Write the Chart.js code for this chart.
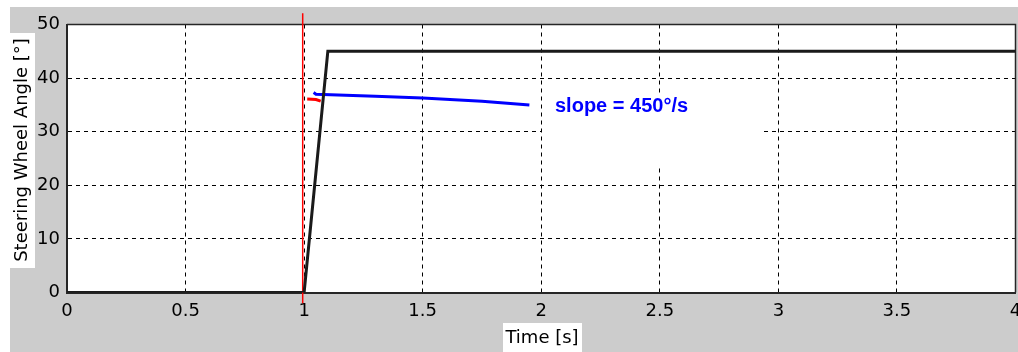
<!DOCTYPE html>
<html>
<head>
<meta charset="utf-8">
<script src="https://cdn.jsdelivr.net/npm/chart.js@4.4.1/dist/chart.umd.min.js"></script>
<style>
    html, body { margin: 0; padding: 0; background: #ffffff; }
    canvas { display: block; }
</style>
</head>
<body>
<canvas id="steerChart" width="1018" height="352"></canvas>
<script>
// ==========================================
// STEERING WHEEL STEP INPUT - ÁNGULO vs TIEMPO
// ==========================================

// Ticks de los ejes
const timeTicks = [0, 0.5, 1, 1.5, 2, 2.5, 3, 3.5, 4];
const angleTicks = [0, 10, 20, 30, 40, 50];

// Entrada de volante (negro): escalón con rampa de 450°/s
const steerTime = [0, 1.0, 1.1, 4];
const steerAngle = [0, 0, 45, 45];

// Ajuste de pendiente (azul)
const slopeTime = [1.04, 1.05, 1.3, 1.5, 1.75, 1.95];
const slopeAngle = [37.3, 37.0, 36.6, 36.3, 35.7, 35.0];

// Tramo rojo corto
const redTime = [1.013, 1.05, 1.07];
const redAngle = [36.1, 36.0, 35.7];

// Marcador vertical rojo en t ≈ 1 s
const markerTime = [0.994, 0.994];
const markerAngle = [-2.0, 52.1];

const slopeLabel = 'slope = 450°/s';
const xTitle = 'Time [s]';
const yTitle = 'Steering Wheel Angle [°]';

const FONT = 'DejaVu Sans';
const GRAY = '#cccccc';

function toPoints(xs, ys) {
    return xs.map((x, i) => ({ x: x, y: ys[i] }));
}

// Fondo gris, títulos con recuadro blanco y etiqueta de pendiente
const framePlugin = {
    id: 'matlabFrame',
    beforeDraw(chart) {
        const ctx = chart.ctx;
        const area = chart.chartArea;
        ctx.save();
        ctx.fillStyle = '#ffffff';
        ctx.fillRect(0, 0, chart.width, chart.height);
        ctx.fillStyle = GRAY;
        ctx.fillRect(10, 7, chart.width - 10, chart.height - 7);
        ctx.fillStyle = '#ffffff';
        ctx.fillRect(area.left, area.top, area.right - area.left, area.bottom - area.top);

        // cajas blancas de los títulos
        ctx.fillRect(0, 33, 35, 235);
        ctx.fillRect(503, 323, 79, chart.height - 323);

        ctx.fillStyle = '#000000';
        ctx.font = '18px "' + FONT + '"';
        ctx.textAlign = 'center';
        ctx.textBaseline = 'middle';
        ctx.fillText(xTitle, 542, 338);

        ctx.translate(22, 150);
        ctx.rotate(-Math.PI / 2);
        ctx.fillText(yTitle, 0, 0);
        ctx.restore();
    },
    beforeDatasetsDraw(chart) {
        const ctx = chart.ctx;
        const area = chart.chartArea;
        ctx.save();
        // fondo blanco del texto de pendiente
        ctx.fillStyle = '#ffffff';
        ctx.fillRect(542, 93, 218, 72);

        // marco superior y derecho
        ctx.strokeStyle = '#262626';
        ctx.lineWidth = 1.5;
        ctx.beginPath();
        ctx.moveTo(area.left, area.top);
        ctx.lineTo(area.right, area.top);
        ctx.lineTo(area.right, area.bottom);
        ctx.stroke();
        ctx.restore();
    },
    afterDatasetsDraw(chart) {
        const ctx = chart.ctx;
        ctx.save();
        ctx.fillStyle = '#0000ff';
        ctx.font = 'bold 20px "Liberation Sans"';
        ctx.textAlign = 'left';
        ctx.textBaseline = 'alphabetic';
        ctx.fillText(slopeLabel, 555, 112);
        ctx.restore();
    }
};

const chart = new Chart(document.getElementById('steerChart').getContext('2d'), {
    type: 'scatter',
    data: {
        datasets: [
            {
                label: 'Steering',
                data: toPoints(steerTime, steerAngle),
                showLine: true,
                borderColor: '#1a1a1a',
                borderWidth: 3,
                pointRadius: 0,
                tension: 0
            },
            {
                label: 'Slope',
                data: toPoints(slopeTime, slopeAngle),
                showLine: true,
                borderColor: '#0000ff',
                borderWidth: 3,
                pointRadius: 0,
                tension: 0
            },
            {
                label: 'Red',
                data: toPoints(redTime, redAngle),
                showLine: true,
                borderColor: '#ff0000',
                borderWidth: 3,
                pointRadius: 0,
                tension: 0
            },
            {
                label: 'Marker',
                data: toPoints(markerTime, markerAngle),
                showLine: true,
                borderColor: '#ff0000',
                borderWidth: 1.5,
                pointRadius: 0,
                tension: 0,
                clip: false
            }
        ]
    },
    options: {
        responsive: false,
        animation: false,
        devicePixelRatio: 1,
        layout: { padding: { left: 10, top: 24.5, right: 2.5, bottom: 0 } },
        plugins: {
            legend: { display: false },
            tooltip: { enabled: false }
        },
        scales: {
            x: {
                type: 'linear',
                min: 0,
                max: 4,
                afterBuildTicks: scale => { scale.ticks = timeTicks.map(v => ({ value: v })); },
                afterFit: scale => {
                    scale.height = 59.5;
                    scale.paddingLeft = 0;
                    scale.paddingRight = 0;
                },
                ticks: {
                    color: '#000000',
                    font: { family: FONT, size: 18 },
                    padding: 8,
                    maxRotation: 0,
                    autoSkip: false,
                    callback: v => String(v)
                },
                grid: { color: '#000000', lineWidth: 1, drawTicks: false },
                border: { display: true, color: '#262626', width: 2, dash: [4, 4] }
            },
            y: {
                type: 'linear',
                min: 0,
                max: 50,
                afterBuildTicks: scale => { scale.ticks = angleTicks.map(v => ({ value: v })); },
                afterFit: scale => {
                    scale.width = 57;
                    scale.paddingTop = 0;
                    scale.paddingBottom = 0;
                },
                ticks: {
                    color: '#000000',
                    font: { family: FONT, size: 18 },
                    padding: 7,
                    autoSkip: false,
                    callback: v => String(v)
                },
                grid: { color: '#000000', lineWidth: 1, drawTicks: false },
                border: { display: true, color: '#262626', width: 2, dash: [4, 4] }
            }
        }
    },
    plugins: [framePlugin]
});
</script>
</body>
</html>
